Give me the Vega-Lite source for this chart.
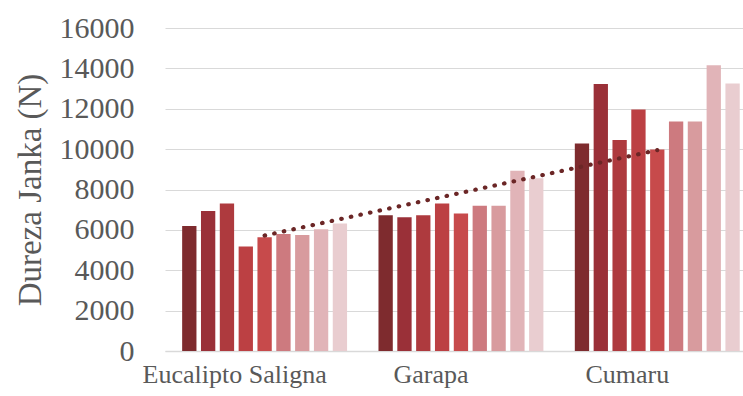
{
  "$schema": "https://vega.github.io/schema/vega-lite/v6.json",
  "width": 578,
  "height": 323,
  "autosize": {"type": "none"},
  "padding": {"left": 165, "top": 28, "right": 0, "bottom": 45},
  "background": "white",
  "config": {
    "view": {"stroke": null},
    "font": "Liberation Serif"
  },
  "datasets": {
    "bars": [
      {"grupo": "Eucalipto Saligna", "serie": "1", "valor": 6190},
      {"grupo": "Eucalipto Saligna", "serie": "2", "valor": 6930},
      {"grupo": "Eucalipto Saligna", "serie": "3", "valor": 7310},
      {"grupo": "Eucalipto Saligna", "serie": "4", "valor": 5180},
      {"grupo": "Eucalipto Saligna", "serie": "5", "valor": 5640},
      {"grupo": "Eucalipto Saligna", "serie": "6", "valor": 5800},
      {"grupo": "Eucalipto Saligna", "serie": "7", "valor": 5750},
      {"grupo": "Eucalipto Saligna", "serie": "8", "valor": 6030},
      {"grupo": "Eucalipto Saligna", "serie": "9", "valor": 6320},
      {"grupo": "Garapa", "serie": "1", "valor": 6730},
      {"grupo": "Garapa", "serie": "2", "valor": 6620},
      {"grupo": "Garapa", "serie": "3", "valor": 6730},
      {"grupo": "Garapa", "serie": "4", "valor": 7310},
      {"grupo": "Garapa", "serie": "5", "valor": 6810},
      {"grupo": "Garapa", "serie": "6", "valor": 7190},
      {"grupo": "Garapa", "serie": "7", "valor": 7190},
      {"grupo": "Garapa", "serie": "8", "valor": 8930},
      {"grupo": "Garapa", "serie": "9", "valor": 8560},
      {"grupo": "Cumaru", "serie": "1", "valor": 10280},
      {"grupo": "Cumaru", "serie": "2", "valor": 13220},
      {"grupo": "Cumaru", "serie": "3", "valor": 10450},
      {"grupo": "Cumaru", "serie": "4", "valor": 11960},
      {"grupo": "Cumaru", "serie": "5", "valor": 9980},
      {"grupo": "Cumaru", "serie": "6", "valor": 11370},
      {"grupo": "Cumaru", "serie": "7", "valor": 11370},
      {"grupo": "Cumaru", "serie": "8", "valor": 14160},
      {"grupo": "Cumaru", "serie": "9", "valor": 13250}
    ],
    "tendencia": [
      {"grupo": "Eucalipto Saligna", "serie": "5", "valor": 5720, "ordem": 1},
      {"grupo": "Garapa", "serie": "5", "valor": 7835, "ordem": 2},
      {"grupo": "Cumaru", "serie": "5", "valor": 9950, "ordem": 3}
    ]
  },
  "encoding": {
    "x": {
      "field": "grupo",
      "type": "nominal",
      "sort": ["Eucalipto Saligna", "Garapa", "Cumaru"],
      "scale": {"paddingInner": 0.16, "paddingOuter": 0.052, "align": 0.84},
      "axis": {
        "title": null,
        "labelAngle": 0,
        "labelFont": "Liberation Serif",
        "labelFontSize": 26,
        "labelLimit": 0,
        "labelColor": "#595959",
        "labelPadding": 10,
        "labelOffset": -30,
        "ticks": false,
        "domainColor": "#d9d9d9",
        "domainWidth": 1.5,
        "grid": false
      }
    },
    "xOffset": {
      "field": "serie",
      "type": "nominal",
      "sort": ["1","2","3","4","5","6","7","8","9"],
      "scale": {"paddingInner": 0.24, "paddingOuter": 0}
    },
    "y": {
      "field": "valor",
      "type": "quantitative",
      "scale": {"domain": [0, 16000], "nice": false},
      "axis": {
        "title": "Dureza Janka (N)",
        "titleFont": "Liberation Serif",
        "titleFontSize": 33,
        "titleFontWeight": "normal",
        "titleColor": "#595959",
        "titlePadding": 12,
        "values": [0, 2000, 4000, 6000, 8000, 10000, 12000, 14000, 16000],
        "format": "d",
        "labelFont": "Liberation Serif",
        "labelFontSize": 30,
        "labelColor": "#595959",
        "labelPadding": 31,
        "ticks": false,
        "domain": false,
        "gridColor": "#d9d9d9",
        "gridWidth": 1.2
      }
    }
  },
  "layer": [
    {
      "data": {"name": "bars"},
      "mark": {"type": "bar"},
      "encoding": {
        "color": {
          "field": "serie",
          "type": "nominal",
          "legend": null,
          "scale": {
            "domain": ["1","2","3","4","5","6","7","8","9"],
            "range": ["#7e2b2e", "#9a3038", "#ae3a3e", "#bc4043", "#c74a4b", "#cd7a7f", "#d89b9e", "#e1b4b8", "#e9cdd0"]
          }
        }
      }
    },
    {
      "data": {"name": "tendencia"},
      "mark": {"type": "line", "color": "#6b2626", "strokeWidth": 4.2, "strokeDash": [0.5, 9.3], "strokeCap": "round"},
      "encoding": {
        "order": {"field": "ordem", "type": "quantitative"}
      }
    }
  ]
}
